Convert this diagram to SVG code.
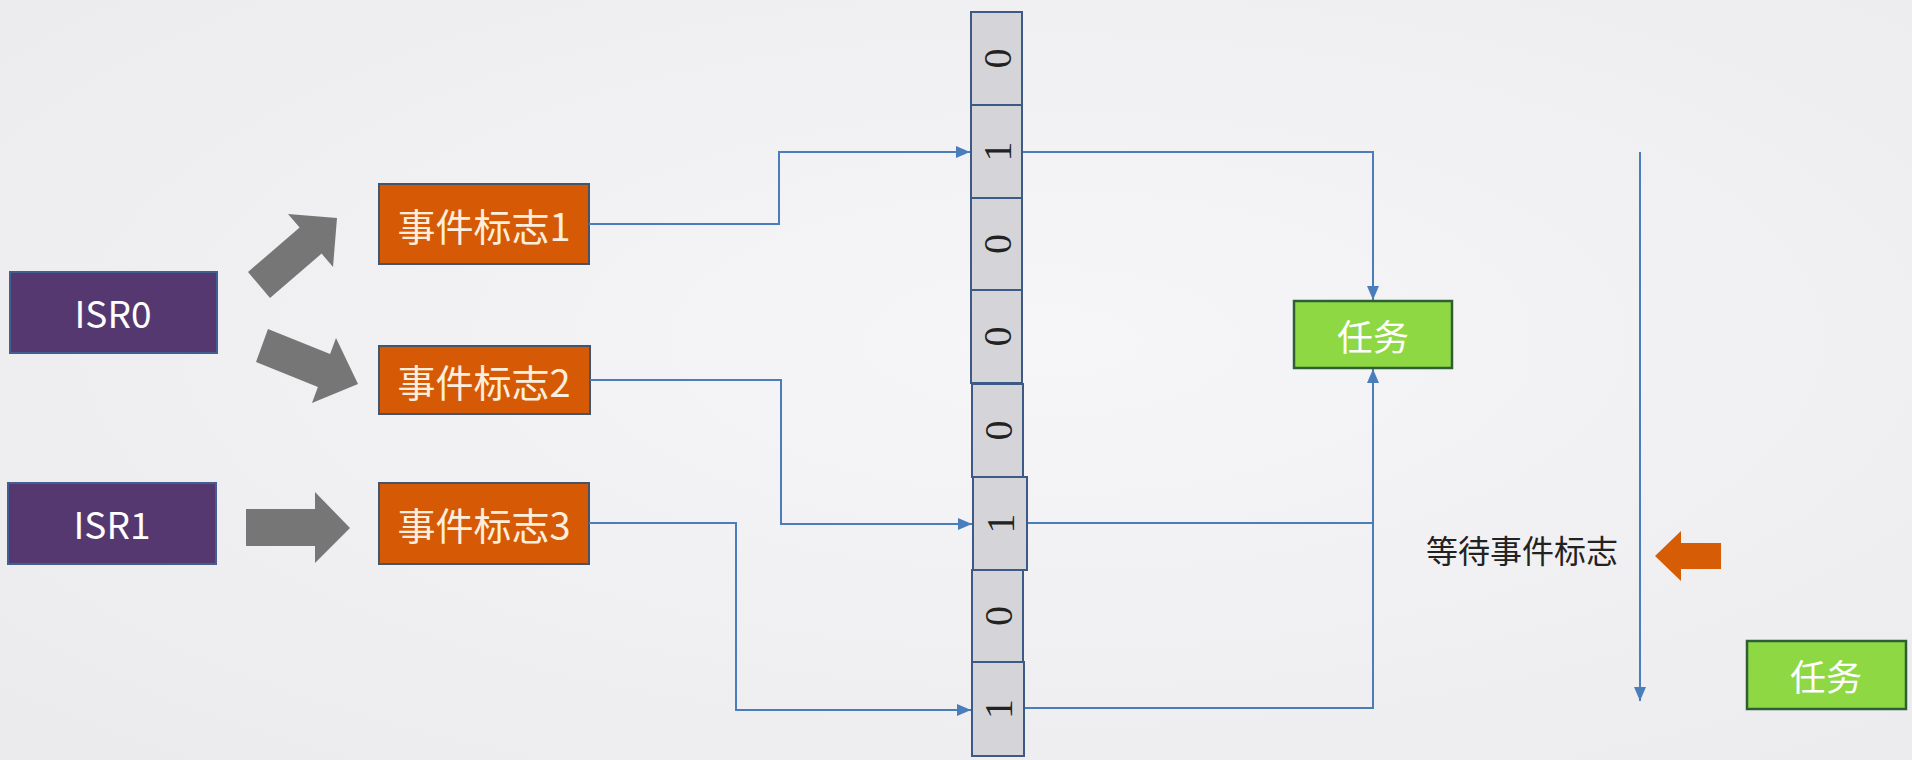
<svg xmlns="http://www.w3.org/2000/svg" width="1912" height="760" viewBox="0 0 1912 760">
<defs>
<radialGradient id="bg" cx="0.55" cy="0.45" r="0.75">
<stop offset="0" stop-color="#f6f6f9"/>
<stop offset="1" stop-color="#ebebee"/>
</radialGradient>
<marker id="ah" markerUnits="userSpaceOnUse" markerWidth="14" markerHeight="12" refX="14" refY="6" orient="auto">
<path d="M0,0 L14,6 L0,12 Z" fill="#4a7ebb"/>
</marker>
<style>
.isr{fill:#55386f;stroke:#41608f;stroke-width:2}
.ev{fill:#d65a06;stroke:#44546a;stroke-width:2}
.task{fill:#8ed943;stroke:#2e5e35;stroke-width:2.5}
.bit{fill:#d5d5d9;stroke:#3d5a87;stroke-width:2}
.lbl{font-family:"Noto Sans CJK SC","Noto Sans",sans-serif;text-anchor:middle;dominant-baseline:central}
.w{fill:#ffffff}
.cream{fill:#fbeedd}
.digit{font-family:"Liberation Serif",serif;font-size:40px;fill:#222;text-anchor:middle;dominant-baseline:central}
.conn{fill:none;stroke:#4a7ebb;stroke-width:2}
.garrow{fill:#767676}
</style>
</defs>
<rect x="0" y="0" width="1912" height="760" fill="url(#bg)"/>

<g id="isr0"><rect class="isr" x="10" y="272" width="207" height="81"/><text class="lbl w" x="113" y="312" font-size="37">ISR0</text></g>
<g id="isr1"><rect class="isr" x="8" y="483" width="208" height="81"/><text class="lbl w" x="112" y="523" font-size="37">ISR1</text></g>

<g id="big-arrows">
<polygon class="garrow" points="248,272 299.6,227.6 288,214 337,218 333,267 321.6,253.6 270,298"/>
<polygon class="garrow" points="268,329 330.1,353.9 336,338 358,384 312,403 317.9,386.9 256,362"/>
<polygon class="garrow" points="246,509 315,509 315,492 350,528 315,563 315,546 246,546"/>
</g>

<g id="ev1"><rect class="ev" x="379" y="184" width="210" height="80"/><text class="lbl cream" x="484" y="224" font-size="38">事件标志1</text></g>
<g id="ev2"><rect class="ev" x="379" y="346" width="211" height="68"/><text class="lbl cream" x="484" y="380" font-size="38">事件标志2</text></g>
<g id="ev3"><rect class="ev" x="379" y="483" width="210" height="81"/><text class="lbl cream" x="484" y="523" font-size="38">事件标志3</text></g>

<g id="connectors">
<path class="conn" d="M589,224 H779 V152 H970" marker-end="url(#ah)"/>
<path class="conn" d="M590,380 H781 V524 H972" marker-end="url(#ah)"/>
<path class="conn" d="M589,523 H736 V710 H971" marker-end="url(#ah)"/>
<path class="conn" d="M1022,152 H1373 V300" marker-end="url(#ah)"/>
<path class="conn" d="M1027,523 H1373"/>
<path class="conn" d="M1024,708 H1373 V369" marker-end="url(#ah)"/>
<path class="conn" d="M1640,152 V701" marker-end="url(#ah)"/>
</g>

<g id="bits">
<rect class="bit" x="971" y="12" width="51" height="93"/><text class="digit" transform="translate(997,58.5) rotate(-90)">0</text>
<rect class="bit" x="971" y="105" width="51" height="93"/><text class="digit" transform="translate(997,151.5) rotate(-90)">1</text>
<rect class="bit" x="971" y="198" width="51" height="92"/><text class="digit" transform="translate(997,244) rotate(-90)">0</text>
<rect class="bit" x="971" y="290" width="51" height="93"/><text class="digit" transform="translate(997,336.5) rotate(-90)">0</text>
<rect class="bit" x="972" y="384" width="51" height="93"/><text class="digit" transform="translate(998,430.5) rotate(-90)">0</text>
<rect class="bit" x="972" y="570" width="51" height="92"/><text class="digit" transform="translate(998,616) rotate(-90)">0</text>
<rect class="bit" x="973" y="477" width="54" height="93"/><text class="digit" transform="translate(1000,523.5) rotate(-90)">1</text>
<rect class="bit" x="972" y="662" width="52" height="94"/><text class="digit" transform="translate(998,709) rotate(-90)">1</text>
</g>

<g id="task1"><rect class="task" x="1294" y="301" width="158" height="67"/><text class="lbl w" x="1373" y="334.5" font-size="36">任务</text></g>
<g id="wait-label"><text class="lbl" x="1522" y="549" font-size="32" fill="#222">等待事件标志</text></g>
<g id="orange-arrow"><polygon points="1655,556 1681,531 1681,543 1721,543 1721,569 1681,569 1681,581" fill="#d65c06"/></g>
<g id="task2"><rect class="task" x="1747" y="641" width="159" height="68"/><text class="lbl w" x="1826" y="675" font-size="36">任务</text></g>
</svg>
